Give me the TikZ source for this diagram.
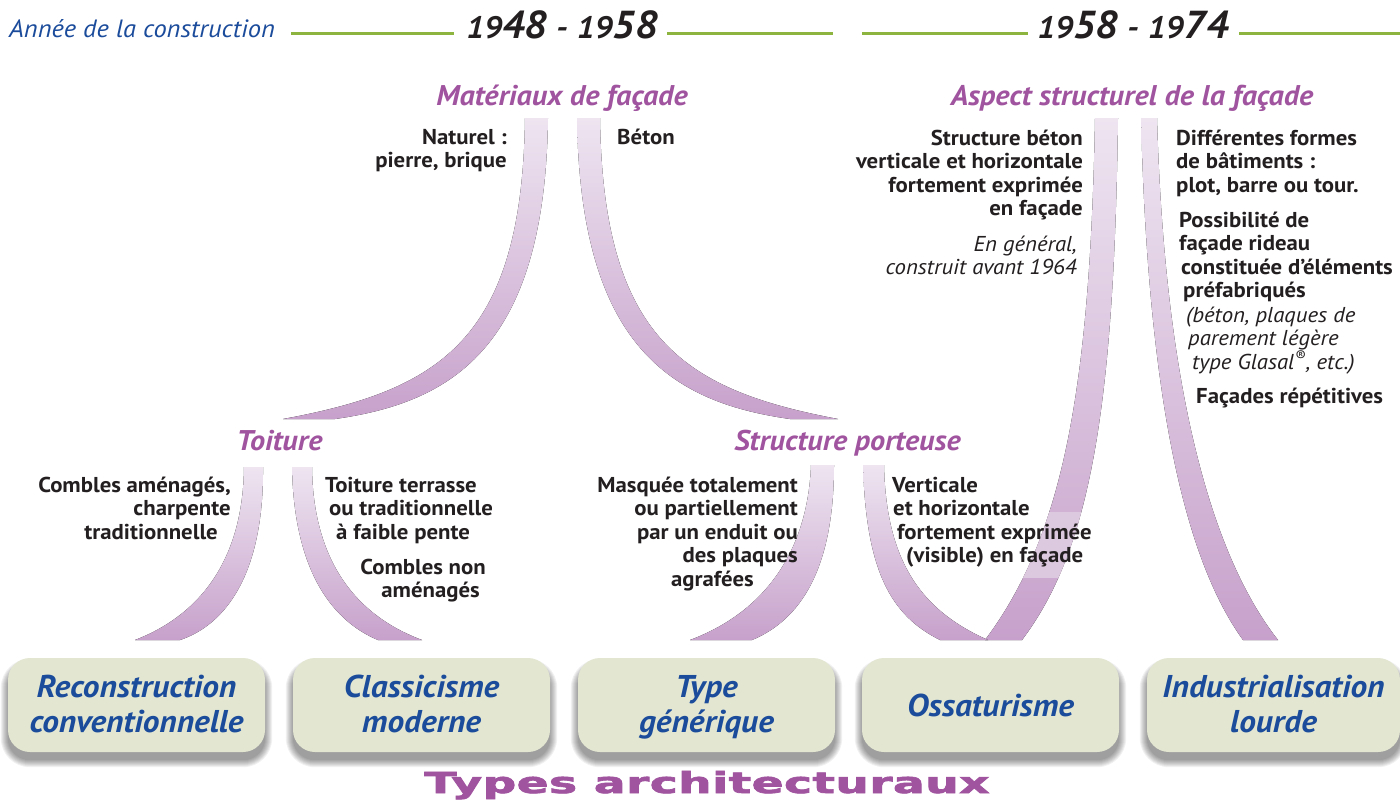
\documentclass[tikz,border=0pt]{standalone}
\usepackage{fontspec}
\usepackage{graphicx}
\setmainfont[FakeStretch=1.06]{PT Sans}
\newfontfamily\typesfont[FakeBold=2.2,LetterSpace=1]{DejaVu Sans}
\definecolor{purp}{HTML}{A0539F}
\definecolor{blu}{HTML}{1B4B9B}
\definecolor{dark}{HTML}{231F20}
\definecolor{grn}{HTML}{8DB43E}
\definecolor{boxfill}{HTML}{E3E7D1}
\definecolor{bandtop}{HTML}{EEE5F1}
\definecolor{bandbot}{HTML}{C7A1CB}
\definecolor{bandmid}{HTML}{DCC8DF}
\newcommand{\yearpair}[4]{{\fontsize{31}{32}\selectfont #1}{\fontsize{39}{40}\selectfont #2}\hspace{9pt}{\fontsize{32}{32}\selectfont -}\hspace{9pt}{\fontsize{31}{32}\selectfont #3}{\fontsize{39}{40}\selectfont #4}}
\pgfdeclarelayer{background}
\pgfsetlayers{background,main}
\begin{document}
\begin{tikzpicture}[x=1pt,y=-1pt,
  txt/.style={inner sep=0pt, text=dark, font=\fontsize{21.5}{23.5}\selectfont\bfseries},
  itx/.style={inner sep=0pt, text=dark, font=\fontsize{21.5}{23.5}\selectfont\itshape},
  cat/.style={inner sep=0pt, text=purp, font=\fontsize{28.5}{30}\selectfont\bfseries\itshape},
  yr/.style={inner sep=0pt, text=dark, font=\bfseries\itshape},
  typebox/.style={rounded corners=22pt, fill=boxfill, minimum width=257pt, minimum height=94pt, inner sep=0pt, align=center, text=blu, font=\fontsize{31.5}{35}\selectfont\bfseries\itshape},
  band/.style={top color=bandtop, bottom color=bandbot, draw=none},
  gl/.style={draw=grn, line width=3pt}]
\useasboundingbox (0,0) rectangle (1400,801);

% header
\node[inner sep=0pt, anchor=base west, text=blu, font=\fontsize{25}{26}\selectfont\itshape] (annee) at (9,37) {Année de la construction};
\node[yr, anchor=base] (y1) at (562,38) {\yearpair{19}{48}{19}{58}};
\node[yr, anchor=base] (y2) at (1133,38) {\yearpair{19}{58}{19}{74}};
\draw[gl] (291,33) -- (454,33);
\draw[gl] (667,33) -- (833,33);
\draw[gl] (862,33) -- (1028,33);
\draw[gl] (1239,33) -- (1400,33);

% bands
\fill[band] (525,118) .. controls (522,340) and (440,390) .. (283,419) -- (335,419) .. controls (455,402) and (545,345) .. (548,118) -- cycle;
\fill[band] (577,118) .. controls (580,345) and (670,402) .. (790,419) -- (838,419) .. controls (685,390) and (603,340) .. (600,118) -- cycle;
\fill[band] (1095,118) .. controls (1090,400) and (1060,540) .. (985,640) -- (1022,640) .. controls (1090,550) and (1114,410) .. (1118,118) -- cycle;
\begin{scope}
\clip (960,512) rectangle (1120,577);
\fill[bandmid] (1095,118) .. controls (1090,400) and (1060,540) .. (985,640) -- (1022,640) .. controls (1090,550) and (1114,410) .. (1118,118) -- cycle;
\end{scope}
\fill[band] (1141,118) .. controls (1148,400) and (1185,560) .. (1243,640) -- (1278,640) .. controls (1215,560) and (1165,400) .. (1157,118) -- cycle;
\fill[band] (244,467) .. controls (243,560) and (200,615) .. (135,640) -- (180,640) .. controls (225,625) and (264,575) .. (263,467) -- cycle;
\fill[band] (292,467) .. controls (294,575) and (335,622) .. (378,640) -- (422,640) .. controls (355,615) and (313,560) .. (312,467) -- cycle;
\fill[band] (811,465) .. controls (808,545) and (770,610) .. (690,640) -- (752,640) .. controls (800,620) and (834,570) .. (834,465) -- cycle;
\fill[band] (863,465) .. controls (866,570) and (890,615) .. (940,640) -- (988,640) .. controls (920,610) and (886,560) .. (884,465) -- cycle;

% category headers
\node[cat, anchor=base] (mat) at (562,105) {Matériaux de façade};
\node[cat, anchor=base] (asp) at (1132,105) {Aspect structurel de la façade};
\node[cat, anchor=base] (toit) at (279.5,450) {Toiture};
\node[cat, anchor=base] (struct) at (847.5,450) {Structure porteuse};

% texts (base anchor = baseline of the last line)
\node[txt, anchor=base east, align=right] (nat) at (507,167.5) {Naturel :\\pierre, brique};
\node[txt, anchor=base west] (beton) at (617,144) {Béton};
\node[txt, anchor=base east, align=right] (asl1) at (1083,215.5) {Structure béton\\verticale et horizontale\\fortement exprimée\\en façade};
\node[itx, anchor=base east, align=right] (asl2) at (1077,274.5) {En général,\\construit avant 1964};
\node[txt, anchor=base west, align=left] (asr1) at (1176,192) {Différentes formes\\de bâtiments :\\plot, barre ou tour.};
\node[txt, anchor=base west, align=left] (asr2) at (1179,297.5) {Possibilité de\\façade rideau\\\hspace*{2pt}constituée d'éléments\\\hspace*{4pt}préfabriqués};
\node[itx, anchor=base west, align=left] (asr3) at (1186,369) {(béton, plaques de\\\hspace*{2pt}parement légère\\\hspace*{6pt}type Glasal\textsuperscript{®}, etc.)};
\node[txt, anchor=base west] (asr4) at (1196,403) {Façades répétitives};
\node[txt, anchor=base east, align=right] (toitL) at (231,539) {Combles aménagés,\\charpente\hspace*{5pt}\\traditionnelle\hspace*{13pt}};
\node[txt, anchor=base west, align=left] (toitR) at (325,539) {Toiture terrasse\\\hspace*{4pt}ou traditionnelle\\\hspace*{11pt}à faible pente};
\node[txt, anchor=base east, align=right] (toitR2) at (486,597.5) {Combles non\\aménagés\hspace*{6pt}};
\node[txt, anchor=base east, align=right] (strL) at (798,586) {Masquée totalement\\ou partiellement\hspace*{1pt}\\par un enduit ou\hspace*{9pt}\\des plaques\hspace*{21pt}\\agrafées\hspace*{44pt}};
\node[txt, anchor=base west, align=left] (strR) at (892,562.5) {Verticale\\\hspace*{1pt}et horizontale\\\hspace*{5pt}fortement exprimée\\\hspace*{14pt}(visible) en façade};

% type boxes
\node[typebox] (b1) at (136.5,705) {Reconstruction\vphantom{É}\\conventionnelle\vphantom{g}};
\node[typebox] (b2) at (421.5,705) {Classicisme\vphantom{É}\\moderne\vphantom{g}};
\node[typebox] (b3) at (706.5,705) {Type\vphantom{É}\\générique};
\node[typebox] (b4) at (990.5,705) {Ossaturisme};
\node[typebox, minimum width=253pt] (b5) at (1273.5,705) {Industrialisation\vphantom{É}\\lourde\vphantom{g}};

\begin{pgfonlayer}{background}
\fill[white] (0,0) rectangle (1400,801);
\foreach \n in {b1,b2,b3,b4,b5}{
  \foreach \r in {0,1,...,7}{
    \pgfmathsetmacro\rc{22+\r}
    \fill[black, opacity=0.055, rounded corners=\rc pt] ([shift={(-\r,8-\r)}]\n.north west) rectangle ([shift={(\r,8+\r)}]\n.south east);
  }}
\end{pgfonlayer}

\node[inner sep=0pt, anchor=base, text=purp] (types) at (707,793) {\resizebox{565pt}{\height}{\typesfont\fontsize{29}{30}\selectfont\bfseries Types architecturaux}};
\end{tikzpicture}
\end{document}
